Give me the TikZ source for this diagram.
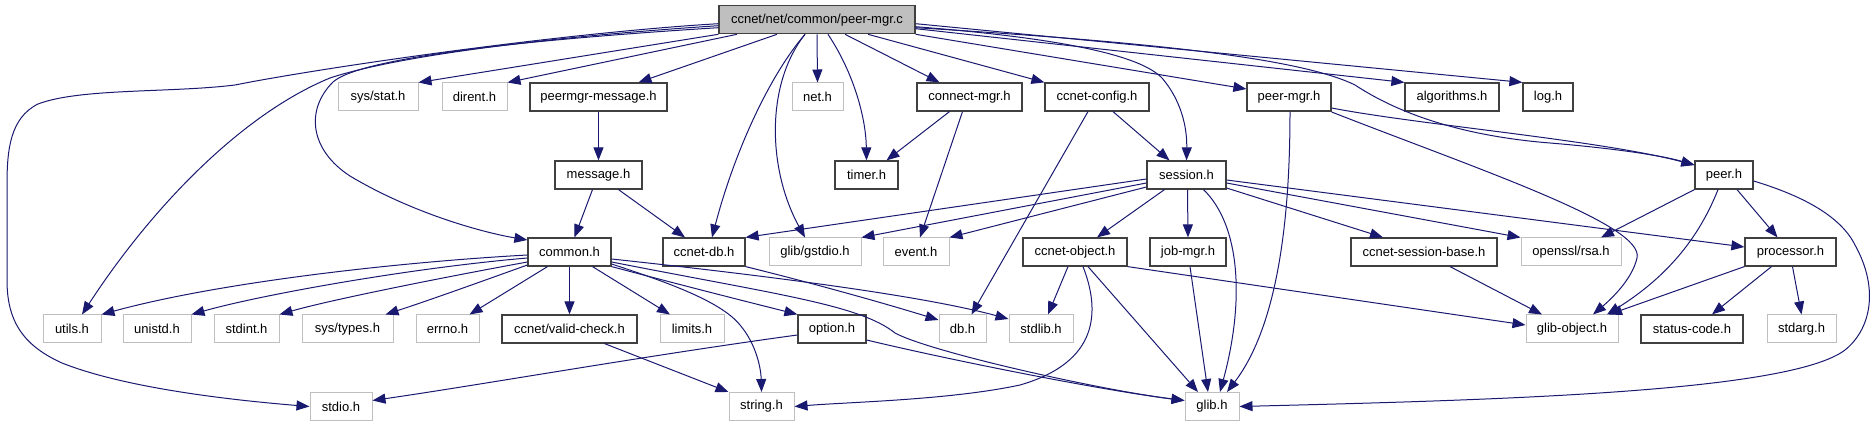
\documentclass[tikz,border=0pt]{standalone}
\usepackage{fontspec}
\setmainfont{Liberation Sans}
\usetikzlibrary{arrows.meta}
\definecolor{edgec}{HTML}{191970}
\definecolor{grayb}{HTML}{BFBFBF}
\definecolor{blackb}{HTML}{404040}
\definecolor{rootf}{HTML}{BFBFBF}
\begin{document}
\begin{tikzpicture}[x=1pt,y=-1pt,
 nd/.style={rectangle, minimum height=28pt, inner sep=0pt, font=\fontsize{13}{15}\selectfont, anchor=center},
 blk/.style={nd, draw=blackb, line width=1.2pt},
 gry/.style={nd, draw=grayb, line width=1pt},
 edge/.style={draw=edgec, line width=1pt, -{Triangle[length=13pt,width=10pt]}},
]
\useasboundingbox (0,0) rectangle (1875,427);
% row 0
\node[blk, fill=rootf, minimum width=196pt] (root) at (817,19.7) {ccnet/net/common/peer-mgr.c};
% row 1
\node[gry, minimum width=80pt] (sysstat) at (378,97) {sys/stat.h};
\node[gry, minimum width=65pt] (dirent) at (474.5,97) {dirent.h};
\node[blk, minimum width=137pt] (peermsg) at (598.5,97) {peermgr-message.h};
\node[gry, minimum width=51pt] (net) at (817.5,97) {net.h};
\node[blk, minimum width=105pt] (connect) at (969.5,97) {connect-mgr.h};
\node[blk, minimum width=104pt] (config) at (1097,97) {ccnet-config.h};
\node[blk, minimum width=84pt] (peermgr) at (1289,97) {peer-mgr.h};
\node[blk, minimum width=94pt] (algorithms) at (1452,97) {algorithms.h};
\node[blk, minimum width=50pt] (log) at (1548,97) {log.h};
% row 2
\node[blk, minimum width=87pt] (message) at (598.5,175) {message.h};
\node[blk, minimum width=63pt] (timer) at (866.5,175) {timer.h};
\node[blk, minimum width=79pt] (session) at (1186.5,175) {session.h};
\node[blk, minimum width=58pt] (peer) at (1724,175) {peer.h};
% row 3
\node[blk, minimum width=83pt] (common) at (569.5,252) {common.h};
\node[blk, minimum width=82pt] (ccnetdb) at (704,252) {ccnet-db.h};
\node[gry, minimum width=92pt] (gstdio) at (815,252) {glib/gstdio.h};
\node[gry, minimum width=66pt] (event) at (916,252) {event.h};
\node[blk, minimum width=104pt] (object) at (1075,252) {ccnet-object.h};
\node[blk, minimum width=76pt] (jobmgr) at (1188,252) {job-mgr.h};
\node[blk, minimum width=146pt] (sessbase) at (1424,252) {ccnet-session-base.h};
\node[gry, minimum width=100pt] (rsa) at (1571,252) {openssl/rsa.h};
\node[blk, minimum width=91pt] (processor) at (1790.5,252) {processor.h};
% row 4
\node[gry, minimum width=58pt] (utils) at (72,329) {utils.h};
\node[gry, minimum width=68pt] (unistd) at (157,329) {unistd.h};
\node[gry, minimum width=65pt] (stdint) at (246.5,329) {stdint.h};
\node[gry, minimum width=91pt] (systypes) at (347.5,329) {sys/types.h};
\node[gry, minimum width=63pt] (errno) at (447.5,329) {errno.h};
\node[blk, minimum width=135pt] (validcheck) at (569.5,329) {ccnet/valid-check.h};
\node[gry, minimum width=64pt] (limits) at (692,329) {limits.h};
\node[blk, minimum width=68pt] (option) at (832,329) {option.h};
\node[gry, minimum width=47pt] (dbh) at (962.5,329) {db.h};
\node[gry, minimum width=64pt] (stdlib) at (1041,329) {stdlib.h};
\node[gry, minimum width=92pt] (glibobject) at (1572,329) {glib-object.h};
\node[blk, minimum width=102pt] (statuscode) at (1692,329) {status-code.h};
\node[gry, minimum width=69pt] (stdarg) at (1801.5,329) {stdarg.h};
% row 5
\node[gry, minimum width=62pt] (stdio) at (341,406.5) {stdio.h};
\node[gry, minimum width=65pt] (string) at (761.5,406.5) {string.h};
\node[gry, minimum width=54pt] (glib) at (1212,406.5) {glib.h};

% root edges
\draw[edge] ([yshift=-4pt]root.west) .. controls (560,33) and (320,68) .. (235,85) .. controls (170,93) and (80,88) .. (38,104) .. controls (10,118) and (7,150) .. (7,185) -- (7,280) .. controls (7,320) and (22,345) .. (62,363) .. controls (125,388) and (230,400) .. (stdio.west);
\draw[edge] ([yshift=-6pt]root.west) .. controls (530,38) and (390,58) .. (330,78) .. controls (240,115) and (150,210) .. ([xshift=10pt]utils.north);
\draw[edge] ([yshift=-8pt]root.west) .. controls (520,40) and (360,58) .. (333,82) .. controls (305,110) and (310,150) .. (350,176) .. controls (410,212) and (480,232) .. ([yshift=12pt]common.west);
\draw[edge] (root.south west) -- (sysstat.north east);
\draw[edge] ([xshift=-80pt]root.south) -- (dirent.north east);
\draw[edge] ([xshift=-40pt]root.south) -- ([xshift=40pt]peermsg.north);
\draw[edge] ([xshift=-12pt]root.south) .. controls (770,75) and (735,150) .. ([xshift=8pt]ccnetdb.north);
\draw[edge] ([xshift=-12pt]root.south) .. controls (765,85) and (768,170) .. ([xshift=-10pt]gstdio.north);
\draw[edge] (root.south) -- (net.north);
\draw[edge] ([xshift=11pt]root.south) .. controls (855,75) and (866,120) .. (timer.north);
\draw[edge] ([xshift=28pt]root.south) -- ([xshift=-30pt]connect.north);
\draw[edge] ([xshift=51pt]root.south) -- (config.north west);
\draw[edge] (root.south east) -- ([yshift=8pt]peermgr.west);
\draw[edge] ([yshift=-7pt]root.east) .. controls (1060,38) and (1140,55) .. (1162,78) .. controls (1185,105) and (1187,135) .. (session.north);
\draw[edge] ([yshift=-9pt]root.east) -- (algorithms.north west);
\draw[edge] ([yshift=-4pt]root.east) -- (log.north west);
\draw[edge] ([yshift=-8pt]root.east) .. controls (1150,42) and (1300,58) .. (1355,85) .. controls (1390,108) and (1450,135) .. (1550,143) .. controls (1610,148) and (1660,155) .. ([yshift=10pt]peer.west);
% second level
\draw[edge] (peermsg.south) -- (message.north);
\draw[edge] ([xshift=-6pt]message.south) -- ([xshift=5pt]common.north);
\draw[edge] ([xshift=20pt]message.south) -- ([xshift=-19pt]ccnetdb.north);
\draw[edge] ([xshift=-20pt]connect.south) -- ([xshift=20pt]timer.north);
\draw[edge] ([xshift=-7pt]connect.south) -- ([xshift=4pt]event.north);
\draw[edge] ([xshift=16pt]config.south) -- ([xshift=-17pt]session.north);
\draw[edge] ([xshift=-9pt]config.south) -- ([xshift=9pt]dbh.north);
\draw[edge] ([yshift=-11pt]peermgr.east) .. controls (1420,125) and (1600,140) .. ([yshift=10pt]peer.west);
\draw[edge] ([yshift=-15pt]peermgr.east) .. controls (1480,170) and (1645,225) .. (1637,258) .. controls (1632,280) and (1610,300) .. ([xshift=21pt]glibobject.north);
\draw[edge] ([xshift=1pt]peermgr.south) .. controls (1290,200) and (1282,320) .. ([xshift=15pt]glib.north);
% session
\draw[edge] ([yshift=-4pt]session.west) -- (ccnetdb.north east);
\draw[edge] ([yshift=-8pt]session.west) -- (gstdio.north east);
\draw[edge] ([yshift=-12pt]session.west) -- (event.north east);
\draw[edge] ([xshift=-22pt]session.south) -- ([xshift=22pt]object.north);
\draw[edge] ([xshift=1pt]session.south) -- (jobmgr.north);
\draw[edge] ([xshift=17pt]session.south) .. controls (1240,225) and (1245,300) .. ([xshift=8pt]glib.north);
\draw[edge] ([yshift=-13pt]session.east) -- ([xshift=-41pt]sessbase.north);
\draw[edge] ([yshift=-8pt]session.east) -- (rsa.north west);
\draw[edge] ([yshift=-5pt]session.east) -- ([yshift=5pt]processor.west);
% peer
\draw[edge] (peer.south west) -- ([xshift=30pt]rsa.north);
\draw[edge] ([xshift=-6pt]peer.south) .. controls (1700,235) and (1670,275) .. ([xshift=35pt]glibobject.north);
\draw[edge] ([xshift=13pt]peer.south) -- ([xshift=-13pt]processor.north);
\draw[edge] ([yshift=-6pt]peer.east) .. controls (1800,195) and (1840,215) .. (1855,245) .. controls (1880,290) and (1870,330) .. (1845,350) .. controls (1790,392) and (1500,400) .. (glib.east);
% processor
\draw[edge] (processor.south west) -- ([xshift=37pt]glibobject.north);
\draw[edge] ([xshift=-19pt]processor.south) -- ([xshift=20pt]statuscode.north);
\draw[edge] ([xshift=2pt]processor.south) -- (stdarg.north);
\draw[edge] ([xshift=26pt]sessbase.south) -- ([xshift=-30pt]glibobject.north);
% object
\draw[edge] (object.south east) -- ([yshift=4pt]glibobject.west);
\draw[edge] ([xshift=-7pt]object.south) -- ([xshift=7pt]stdlib.north);
\draw[edge] ([xshift=13pt]object.south) -- ([xshift=-14pt]glib.north);
\draw[edge] ([xshift=8pt]object.south) .. controls (1100,310) and (1100,362) .. (1020,385) .. controls (950,400) and (850,402) .. (string.east);
\draw[edge] ([xshift=2pt]jobmgr.south) -- ([xshift=-4pt]glib.north);
\draw[edge] (ccnetdb.south east) .. controls (820,285) and (890,305) .. ([yshift=9pt]dbh.west);
% common
\draw[edge] ([yshift=-3pt]common.west) .. controls (400,262) and (220,282) .. (utils.north east);
\draw[edge] ([yshift=-6pt]common.west) .. controls (410,268) and (260,295) .. (unistd.north east);
\draw[edge] ([yshift=-10pt]common.west) .. controls (440,278) and (330,300) .. (stdint.north east);
\draw[edge] ([yshift=-13pt]common.west) .. controls (480,282) and (430,300) .. ([xshift=38pt]systypes.north);
\draw[edge] ([xshift=-22pt]common.south) -- ([xshift=22pt]errno.north);
\draw[edge] (common.south) -- (validcheck.north);
\draw[edge] ([xshift=23pt]common.south) -- ([xshift=-22pt]limits.north);
\draw[edge] (common.south east) .. controls (700,290) and (760,305) .. (option.north west);
\draw[edge] ([yshift=-12pt]common.east) .. controls (660,280) and (720,300) .. (740,325) .. controls (757,345) and (761,370) .. (string.north);
\draw[edge] ([yshift=-10pt]common.east) .. controls (780,295) and (860,305) .. (895,333) .. controls (930,352) and (1100,390) .. ([yshift=6pt]glib.west);
\draw[edge] ([yshift=-7pt]common.east) .. controls (760,275) and (920,295) .. ([yshift=10pt]stdlib.west);
\draw[edge] ([xshift=35pt]validcheck.south) -- (string.north west);
\draw[edge] ([yshift=-6pt]option.west) .. controls (650,355) and (480,385) .. ([yshift=6pt]stdio.east);
\draw[edge] ([yshift=-11pt]option.east) .. controls (950,360) and (1100,390) .. ([yshift=6pt]glib.west);
\end{tikzpicture}
\end{document}
